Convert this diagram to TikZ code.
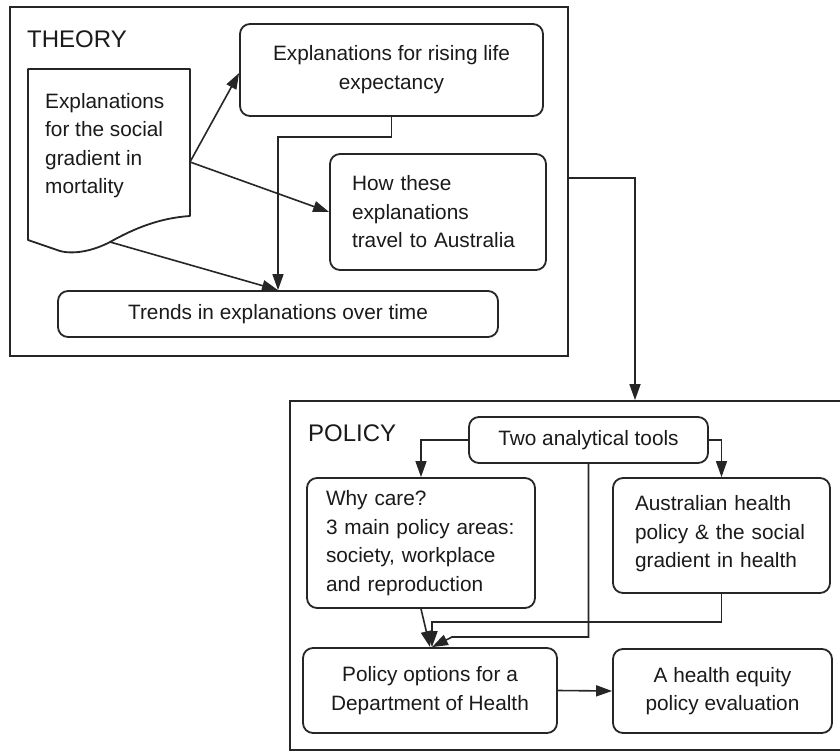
\documentclass[tikz,border=0pt]{standalone}
\usepackage{fontspec}
\setmainfont{Liberation Sans}
\usetikzlibrary{arrows.meta,calc}
\definecolor{ink}{HTML}{262626}
\definecolor{txt}{HTML}{1A1A1A}
\begin{document}
\begin{tikzpicture}[x=1pt,y=-1pt,
  every node/.style={font=\fontsize{20.8}{28.5}\selectfont, text=txt},
  frame/.style={draw=ink, line width=1.8pt, rectangle, inner sep=0pt},
  card/.style={draw=ink, line width=1.8pt, rounded corners=10pt, inner sep=0pt, align=center},
  leftcard/.style={draw=ink, line width=1.8pt, rounded corners=10pt, align=left, inner ysep=0pt},
  heading/.style={font=\fontsize{24}{28}\selectfont, anchor=base west, inner sep=0pt},
  link/.style={draw=ink, line width=1.6pt, -{Triangle[length=16pt,width=11pt]}},
  plain/.style={draw=ink, line width=1.8pt, line join=round}]

% canvas
\fill[white] (0,0) rectangle (840,751);
\useasboundingbox (0,0) rectangle (840,751);

% ---------- THEORY panel ----------
\node[frame, minimum width=558pt, minimum height=349pt] (theory) at (289,181.5) {};
\node[heading] (theoryhead) at (27,48) {THEORY};

% document-shaped block with a wavy lower edge
\draw[plain, fill=white] (28,69) -- (190,69) -- (190,216)
  .. controls (160,218) and (135,228) .. (110,242)
  .. controls (95,250) and (75,255) .. (60,251)
  -- (28,240) -- cycle;
\node[anchor=north west, inner sep=0pt, align=left] (doc) at (45,93)
  {Explanations\\for the social\\gradient in\\mortality};

\node[card, minimum width=303pt, minimum height=92pt] (rise) at (391.5,70)
  {Explanations for rising life\\expectancy\rule[-5pt]{0pt}{5pt}};
\node[leftcard, text width=172pt, inner xsep=22pt, minimum height=116pt] (how) at (438,212)
  {How these\\explanations\\travel to Australia};
\node[card, minimum width=440pt, minimum height=46pt] (trends) at (278,314)
  {Trends in explanations over time};

\coordinate (docR) at (190,162);
\coordinate (docB) at (110,242);
\draw[link] (docR) -- ([yshift=-3pt]rise.west);
\draw[link] (docR) -- (how.west);
\draw[link] (docB) -- (trends.north);
\draw[link] (rise.south) -- ++(0,20) -| (trends.north);

% ---------- POLICY panel ----------
\node[frame, minimum width=551pt, minimum height=349pt] (policy) at (565.5,575.5) {};
\node[heading] (policyhead) at (308,441) {POLICY};

\coordinate (drop) at (635,178);
\draw[link] (theory.east |- drop) -- (drop) -- (drop |- policy.north);

\node[card, minimum width=239pt, minimum height=46pt] (tools) at (588.5,440)
  {Two analytical tools};
\node[leftcard, text width=190pt, inner xsep=19pt, minimum height=130pt] (why) at (421,543)
  {Why care?\\3 main policy areas:\\society, workplace\\and reproduction};
\node[leftcard, text width=173pt, inner xsep=22pt, minimum height=115pt] (aus) at (721.5,535.5)
  {Australian health\\policy \& the social\\gradient in health\rule[-8pt]{0pt}{8pt}};
\node[card, minimum width=254pt, minimum height=85pt] (opt) at (430,690.5)
  {Policy options for a\\Department of Health};
\node[card, minimum width=219pt, minimum height=84pt] (eq) at (722.5,691)
  {A health equity\\policy evaluation};

\coordinate (joinA) at (452,637);
\draw[link] (tools.west) -| (why.north);
\draw[link] (tools.east) -| (aus.north);
\draw[link] (tools.south) |- (joinA) -- ([xshift=2pt]opt.north);
\draw[link] (aus.south) -- ++(0,28) -| ([xshift=2pt]opt.north);
\draw[link] (why.south) -- (opt.north);
\draw[link] (opt.east) -- (eq.west);
\end{tikzpicture}
\end{document}
